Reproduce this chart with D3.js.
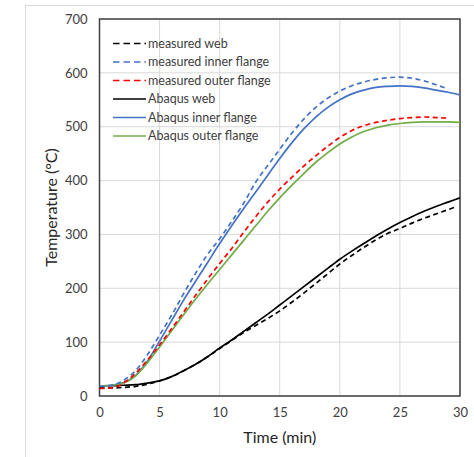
<!DOCTYPE html>
<html>
<head>
<meta charset="utf-8">
<script src="https://cdn.jsdelivr.net/npm/d3@7"></script>
<style>
  html, body { margin: 0; padding: 0; background: #fff; }
  svg { display: block; font-family: Lato, "Open Sans", sans-serif; }
</style>
</head>
<body>
<svg id="chart" width="474" height="457"></svg>
<script>
// Time axes (min), one sample per minute
const time = d3.range(0, 31);              // model results, 0–30 min
const timeMeasured = d3.range(0, 30);      // flange readings, 0–29 min
const timeMeasuredWeb = d3.range(0, 30).concat([29.5]);

// Temperatures in °C
const measuredWeb = [15, 15, 16, 18, 22, 28, 36, 47, 59, 73, 88, 103, 118, 131, 144, 158, 174, 191, 209, 227, 245, 261, 276, 290, 302, 311, 321, 330, 338, 346, 350];
const measuredInner = [18, 20, 29, 47, 77, 113, 150, 190, 228, 263, 292, 324, 358, 397, 428, 458, 488, 514, 536, 553, 566, 576, 583, 588, 591, 592, 590, 585, 578, 570];
const measuredOuter = [14, 15, 24, 42, 67, 95, 125, 156, 187, 217, 246, 274, 304, 333, 360, 384, 406, 427, 446, 464, 480, 493, 502, 508, 512, 515, 517, 518, 517, 516];
const abaqusWeb = [19, 19, 20, 21, 24, 28, 36, 47, 59, 73, 89, 104, 120, 136, 152, 169, 186, 203, 220, 237, 254, 269, 283, 297, 310, 322, 333, 343, 352, 360, 368];
const abaqusInner = [19, 20, 25, 38, 65, 102, 140, 178, 213, 248, 283, 316, 348, 379, 410, 441, 470, 496, 518, 536, 550, 561, 568, 573, 575, 576, 575, 572, 568, 564, 559];
const abaqusOuter = [19, 20, 24, 37, 62, 91, 121, 151, 180, 208, 235, 262, 289, 316, 343, 368, 391, 413, 434, 452, 468, 481, 491, 498, 503, 506, 508, 509, 509, 509, 508];

const xTicks = [0, 5, 10, 15, 20, 25, 30];
const yTicks = [0, 100, 200, 300, 400, 500, 600, 700];

const DASH = "5,3.5";
const series = [
  { name: "measured web", x: timeMeasuredWeb, y: measuredWeb, color: "#000000", dash: DASH },
  { name: "measured inner flange", x: timeMeasured, y: measuredInner, color: "#4472C4", dash: DASH },
  { name: "measured outer flange", x: timeMeasured, y: measuredOuter, color: "#FF0000", dash: DASH },
  { name: "Abaqus web", x: time, y: abaqusWeb, color: "#000000", dash: null },
  { name: "Abaqus inner flange", x: time, y: abaqusInner, color: "#4472C4", dash: null },
  { name: "Abaqus outer flange", x: time, y: abaqusOuter, color: "#70AD47", dash: null }
];

const svg = d3.select("#chart");
const plot = { left: 99.5, right: 460, top: 19, bottom: 396 };

const x = d3.scaleLinear().domain([0, 30]).range([plot.left, plot.right]);
const y = d3.scaleLinear().domain([0, 700]).range([plot.bottom, plot.top]);

// Outer chart border
svg.append("rect")
  .attr("x", 25.5).attr("y", 5.5)
  .attr("width", 470).attr("height", 470)
  .attr("fill", "none").attr("stroke", "#D9D9D9").attr("stroke-width", 1);

// Gridlines
const grid = svg.append("g");
grid.selectAll("line.v").data(xTicks).join("line")
  .attr("x1", d => x(d)).attr("x2", d => x(d))
  .attr("y1", plot.top).attr("y2", plot.bottom)
  .attr("stroke", "#D9D9D9").attr("stroke-width", 1);
grid.selectAll("line.h").data(yTicks).join("line")
  .attr("x1", plot.left).attr("x2", plot.right)
  .attr("y1", d => y(d)).attr("y2", d => y(d))
  .attr("stroke", "#D9D9D9").attr("stroke-width", 1);

// Axes (labels only; frame drawn separately)
const xAxis = svg.append("g")
  .attr("transform", `translate(0,${plot.bottom})`)
  .call(d3.axisBottom(x).tickValues(xTicks).tickSize(0).tickPadding(12));
const yAxis = svg.append("g")
  .attr("transform", `translate(${plot.left},0)`)
  .call(d3.axisLeft(y).tickValues(yTicks).tickSize(0).tickPadding(12));
[xAxis, yAxis].forEach(a => {
  a.select(".domain").remove();
  a.selectAll("text")
    .attr("fill", "#404040")
    .style("font-family", "Lato, 'Open Sans', sans-serif")
    .style("font-size", "13px");
});

// Plot frame
svg.append("rect")
  .attr("x", plot.left).attr("y", plot.top)
  .attr("width", plot.right - plot.left).attr("height", plot.bottom - plot.top)
  .attr("fill", "none").attr("stroke", "#404040").attr("stroke-width", 1.5);

// Series lines
const clipId = "plot-clip";
svg.append("clipPath").attr("id", clipId).append("rect")
  .attr("x", plot.left).attr("y", plot.top)
  .attr("width", plot.right - plot.left).attr("height", plot.bottom - plot.top);

const line = d3.line()
  .x(d => x(d[0]))
  .y(d => y(d[1]))
  .curve(d3.curveMonotoneX);

const linesG = svg.append("g").attr("clip-path", `url(#${clipId})`);
// model curves first, measured dashed curves on top
const drawOrder = [3, 4, 5, 0, 1, 2];
drawOrder.forEach(i => {
  const s = series[i];
  linesG.append("path")
    .datum(s.x.map((t, k) => [t, s.y[k]]))
    .attr("d", line)
    .attr("fill", "none")
    .attr("stroke", s.color)
    .attr("stroke-width", 1.7)
    .attr("stroke-dasharray", s.dash);
});

// Legend
const legend = svg.append("g");
series.forEach((s, i) => {
  const ly = 43.5 + i * 18.5;
  legend.append("line")
    .attr("x1", 113).attr("x2", 146)
    .attr("y1", ly).attr("y2", ly)
    .attr("stroke", s.color).attr("stroke-width", 1.7)
    .attr("stroke-dasharray", s.dash ? "6.5,4" : null);
  legend.append("text")
    .attr("x", 148).attr("y", ly)
    .attr("dy", "0.35em")
    .attr("fill", "#404040")
    .style("font-size", "12.5px")
    .text(s.name);
});

// Axis titles
svg.append("text")
  .attr("x", (plot.left + plot.right) / 2).attr("y", 443)
  .attr("text-anchor", "middle")
  .attr("fill", "#262626")
  .style("font-size", "16px")
  .text("Time (min)");
svg.append("text")
  .attr("transform", `translate(57,${(plot.top + plot.bottom) / 2}) rotate(-90)`)
  .attr("text-anchor", "middle")
  .attr("fill", "#262626")
  .style("font-size", "16px")
  .text("Temperature (°C)");
</script>
</body>
</html>
